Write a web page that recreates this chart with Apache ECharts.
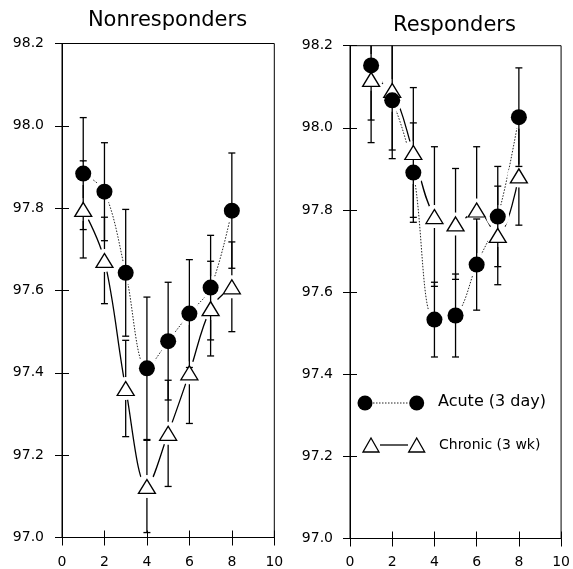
<!DOCTYPE html>
<html><head><meta charset="utf-8">
<script src="https://cdn.jsdelivr.net/npm/echarts@6/dist/echarts.min.js"></script>
<style>html,body{margin:0;padding:0;background:#fff}#c{width:573px;height:569px}</style>
</head><body><div id="c"></div><script>
// ---- data ----
const days = [1, 2, 3, 4, 5, 6, 7, 8];
const acuteNon     = [97.884, 97.840, 97.643, 97.411, 97.477, 97.544, 97.607, 97.794];
const acuteNonSE   = [0.136, 0.119, 0.154, 0.173, 0.143, 0.131, 0.127, 0.140];
const chronicNon   = [97.797, 97.673, 97.362, 97.124, 97.253, 97.400, 97.556, 97.609];
const chronicNonSE = [0.118, 0.105, 0.117, 0.112, 0.129, 0.123, 0.115, 0.109];
const acuteRes     = [98.152, 98.067, 97.891, 97.533, 97.543, 97.667, 97.784, 98.026];
const acuteResSE   = [0.133, 0.142, 0.121, 0.091, 0.101, 0.111, 0.122, 0.120];
const chronicRes   = [98.118, 98.091, 97.940, 97.784, 97.766, 97.800, 97.738, 97.883];
const chronicResSE = [0.154, 0.145, 0.158, 0.170, 0.135, 0.154, 0.120, 0.120];
const xTickLabels = [0, 2, 4, 6, 8, 10];
const yTickLabels = [97.0, 97.2, 97.4, 97.6, 97.8, 98.0, 98.2];
const panelTitles = ['Nonresponders', 'Responders'];
const legendLabels = ['Acute (3 day)', 'Chronic (3 wk)'];

const FONT = 'DejaVu Sans';
const X_MIN = xTickLabels[0], X_MAX = xTickLabels[xTickLabels.length - 1];
const Y_MIN = yTickLabels[0], Y_MAX = yTickLabels[yTickLabels.length - 1];

const chart = echarts.init(document.getElementById('c'), null, {renderer: 'canvas'});

const grids = [
  {left: 62, top: 43.5, width: 212.3, height: 494.8, show: true, borderColor: '#000', borderWidth: 1, backgroundColor: 'transparent'},
  {left: 350, top: 45.7, width: 213.3, height: 495, show: true, borderColor: '#000', borderWidth: 1, backgroundColor: 'transparent'}
];
const xLabelMargin = [17.5, 16.5];
const yLabelMargin = [18, 17];

const xAxes = [], yAxes = [];
[0, 1].forEach(gi => {
  const base = {gridIndex: gi, type: 'value', min: X_MIN, max: X_MAX, interval: 2, position: 'bottom', splitLine: {show: false}};
  xAxes.push(Object.assign({}, base, {
    axisLine: {show: true, lineStyle: {color: '#000', width: 1}},
    axisTick: {show: true, inside: false, length: 8, lineStyle: {color: '#000', width: 1}},
    axisLabel: {margin: xLabelMargin[gi], color: '#000', fontFamily: FONT, fontSize: 14}
  }));
  xAxes.push(Object.assign({}, base, {
    axisLine: {show: false},
    axisTick: {show: true, inside: true, length: 7, lineStyle: {color: '#000', width: 1}},
    axisLabel: {show: false}
  }));
  const ybase = {gridIndex: gi, type: 'value', min: Y_MIN, max: Y_MAX, interval: 0.2, position: 'left', splitLine: {show: false}};
  yAxes.push(Object.assign({}, ybase, {
    axisLine: {show: true, lineStyle: {color: '#000', width: 1}},
    axisTick: {show: true, inside: false, length: 7, lineStyle: {color: '#000', width: 1}},
    axisLabel: {margin: yLabelMargin[gi], color: '#000', fontFamily: FONT, fontSize: 14, formatter: v => Number(v).toFixed(1)}
  }));
  yAxes.push(Object.assign({}, ybase, {
    axisLine: {show: false},
    axisTick: {show: true, inside: true, length: 7, lineStyle: {color: '#000', width: 1}},
    axisLabel: {show: false}
  }));
});

function errSeries(gi, means, ses, z) {
  return {
    type: 'custom', xAxisIndex: gi * 2, yAxisIndex: gi * 2, z: z, silent: true,
    data: days.map((d, i) => [d, means[i], ses[i]]),
    renderItem: function (params, api) {
      const x = api.value(0), m = api.value(1), s = api.value(2);
      const hi = m + s, lo = m - s;
      const top = api.coord([x, Math.min(hi, Y_MAX)]);
      const bot = api.coord([x, Math.max(lo, Y_MIN)]);
      const cw = 3.5;
      const st = {stroke: '#000', lineWidth: 1.3};
      const ch = [{type: 'line', shape: {x1: top[0], y1: top[1], x2: bot[0], y2: bot[1]}, style: st}];
      if (hi <= Y_MAX) ch.push({type: 'line', shape: {x1: top[0] - cw, y1: top[1], x2: top[0] + cw, y2: top[1]}, style: st});
      if (lo >= Y_MIN) ch.push({type: 'line', shape: {x1: bot[0] - cw, y1: bot[1], x2: bot[0] + cw, y2: bot[1]}, style: st});
      return {type: 'group', children: ch};
    }
  };
}
function lineSeries(gi, means, dotted) {
  return {
    type: 'line', xAxisIndex: gi * 2, yAxisIndex: gi * 2, z: 2, silent: true,
    data: days.map((d, i) => [d, means[i]]), showSymbol: false, smooth: 0.35,
    lineStyle: dotted ? {color: '#222', width: 1, type: [1.5, 1.5]} : {color: '#000', width: 1.3, type: 'solid'}
  };
}
function haloSeries(gi, means) {
  return {
    type: 'scatter', xAxisIndex: gi * 2, yAxisIndex: gi * 2, z: 3, silent: true,
    data: days.map((d, i) => [d, means[i]]), symbol: 'circle', symbolSize: 23,
    itemStyle: {color: '#fff', opacity: 1}
  };
}
function markerSeries(gi, means, acute) {
  return {
    type: 'scatter', xAxisIndex: gi * 2, yAxisIndex: gi * 2, z: acute ? 7 : 6, silent: true,
    data: days.map((d, i) => [d, means[i]]),
    symbol: acute ? 'circle' : 'triangle', symbolSize: acute ? 16 : [17, 14],
    itemStyle: acute ? {color: '#000', opacity: 1} : {color: '#fff', borderColor: '#000', borderWidth: 1.3, opacity: 1}
  };
}

const panels = [
  {acute: acuteNon, acuteSE: acuteNonSE, chronic: chronicNon, chronicSE: chronicNonSE},
  {acute: acuteRes, acuteSE: acuteResSE, chronic: chronicRes, chronicSE: chronicResSE}
];
const series = [];
panels.forEach((p, gi) => {
  series.push(errSeries(gi, p.chronic, p.chronicSE, 1));
  series.push(lineSeries(gi, p.acute, true));
  series.push(lineSeries(gi, p.chronic, false));
  series.push(haloSeries(gi, p.acute));
  series.push(haloSeries(gi, p.chronic));
  series.push(errSeries(gi, p.acute, p.acuteSE, 5));
  series.push(markerSeries(gi, p.chronic, false));
  series.push(markerSeries(gi, p.acute, true));
});

const graphic = [
  {type: 'text', x: 167.5, y: 20.5, style: {text: panelTitles[0], font: '21px "DejaVu Sans"', fill: '#000', align: 'center', verticalAlign: 'middle'}},
  {type: 'text', x: 454.5, y: 26, style: {text: panelTitles[1], font: '21px "DejaVu Sans"', fill: '#000', align: 'center', verticalAlign: 'middle'}},
  // legend: acute
  {type: 'line', shape: {x1: 373, y1: 403, x2: 409, y2: 403}, style: {stroke: '#222', lineWidth: 1, lineDash: [1.5, 1.5]}, z: 10},
  {type: 'circle', shape: {cx: 365, cy: 403, r: 7.5}, style: {fill: '#000'}, z: 10},
  {type: 'circle', shape: {cx: 416.7, cy: 403, r: 7.5}, style: {fill: '#000'}, z: 10},
  {type: 'text', x: 438, y: 402, style: {text: legendLabels[0], font: '16px "DejaVu Sans"', fill: '#000', align: 'left', verticalAlign: 'middle'}, z: 10},
  // legend: chronic
  {type: 'line', shape: {x1: 380, y1: 445, x2: 408, y2: 445}, style: {stroke: '#000', lineWidth: 1.3}, z: 10},
  {type: 'polygon', shape: {points: [[363, 452], [371, 438], [379, 452]]}, style: {fill: '#fff', stroke: '#000', lineWidth: 1.3}, z: 10},
  {type: 'polygon', shape: {points: [[408.7, 452], [416.7, 438], [424.7, 452]]}, style: {fill: '#fff', stroke: '#000', lineWidth: 1.3}, z: 10},
  {type: 'text', x: 439, y: 445, style: {text: legendLabels[1], font: '14px "DejaVu Sans"', fill: '#000', align: 'left', verticalAlign: 'middle'}, z: 10}
];

chart.setOption({
  animation: false,
  backgroundColor: '#fff',
  grid: grids,
  xAxis: xAxes,
  yAxis: yAxes,
  series: series,
  graphic: graphic
});
</script></body></html>
